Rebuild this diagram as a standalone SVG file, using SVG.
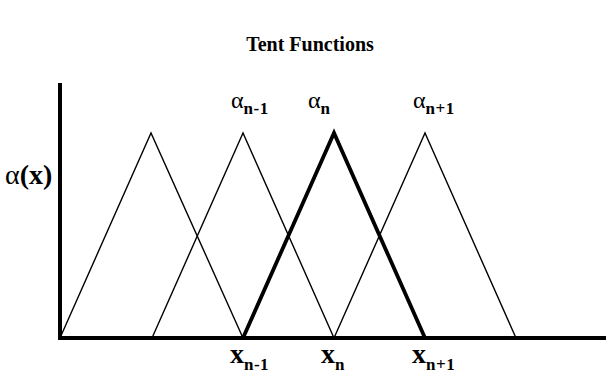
<svg xmlns="http://www.w3.org/2000/svg" width="606" height="377" viewBox="0 0 606 377">
<style>
.t{font-family:"Liberation Serif","Times New Roman",serif;fill:#000}
.b{font-weight:bold}
.thin{fill:none;stroke:#000;stroke-width:1.4;stroke-linejoin:miter}
.bold{fill:none;stroke:#000;stroke-width:3.8;stroke-linejoin:miter}
.axis{fill:none;stroke:#000;stroke-width:4}
.sub{font-weight:bold;font-size:17px;letter-spacing:0.5px}
</style>
<rect width="606" height="377" fill="#fff"/>
<text id="title" class="t b" x="310" y="51" font-size="20" text-anchor="middle">Tent Functions</text>
<g id="axes">
<polyline class="axis" points="60,83 60,338 606,338"/>
</g>
<g id="tent1"><polyline class="thin" points="60,338 151,133 243,338"/></g>
<g id="tent2"><polyline class="thin" points="152,338 243,133 334,338"/></g>
<g id="tent4"><polyline class="thin" points="334,338 425,133 516,338"/></g>
<g id="tent3"><polyline class="bold" points="243,338 334,133 425,338"/></g>
<g id="ylabel"><text class="t" x="5" y="184" font-size="28">α<tspan class="b">(x)</tspan></text></g>
<g id="alpha-labels">
<text class="t" x="231" y="108" font-size="24">α<tspan class="sub" dy="6">n-1</tspan></text>
<text class="t" x="308" y="108" font-size="24">α<tspan class="sub" dy="6">n</tspan></text>
<text class="t" x="413" y="108" font-size="24">α<tspan class="sub" dy="6">n+1</tspan></text>
</g>
<g id="x-labels">
<text class="t b" x="230" y="363" font-size="28">x<tspan class="sub" dy="7">n-1</tspan></text>
<text class="t b" x="321" y="363" font-size="28">x<tspan class="sub" dy="7">n</tspan></text>
<text class="t b" x="412" y="363" font-size="28">x<tspan class="sub" dy="7">n+1</tspan></text>
</g>
</svg>
